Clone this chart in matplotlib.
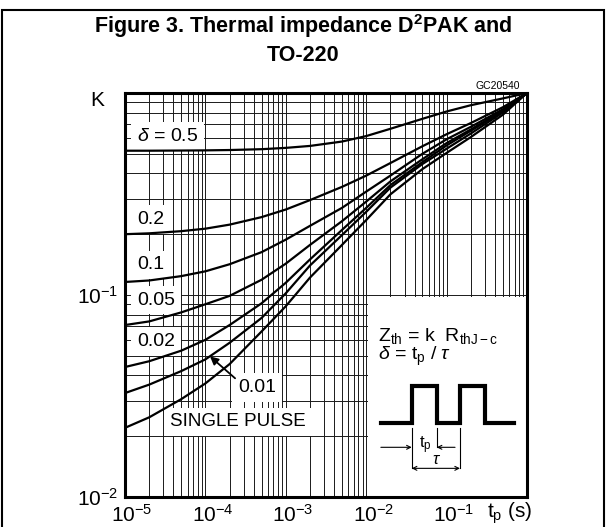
import matplotlib.pyplot as plt
from matplotlib.patches import Rectangle
from matplotlib.ticker import LogLocator, NullFormatter
from matplotlib.transforms import ScaledTranslation

plt.rcParams['font.family'] = ['Liberation Sans', 'DejaVu Sans']
plt.rcParams['mathtext.fontset'] = 'custom'
plt.rcParams['mathtext.rm'] = 'Liberation Sans'
plt.rcParams['mathtext.it'] = 'Liberation Sans:italic'
plt.rcParams['mathtext.bf'] = 'Liberation Sans:bold'

# pulse duration (s)
t_p = [1e-5, 2e-5, 5e-5, 1e-4, 2e-4, 5e-4, 1e-3, 2e-3, 5e-3,
       1e-2, 2e-2, 5e-2, 1e-1, 2e-1, 5e-1, 1.0]

# K, one list per duty cycle
k_d050 = [0.518, 0.518, 0.519, 0.520, 0.522, 0.527, 0.535, 0.547, 0.575,
          0.612, 0.665, 0.745, 0.81, 0.87, 0.94, 1.0]
k_d020 = [0.200, 0.202, 0.207, 0.213, 0.223, 0.243, 0.265, 0.295, 0.343,
          0.39, 0.45, 0.545, 0.625, 0.71, 0.85, 1.0]
k_d010 = [0.116, 0.118, 0.124, 0.131, 0.142, 0.163, 0.188, 0.220, 0.270,
          0.325, 0.39, 0.50, 0.59, 0.68, 0.83, 1.0]
k_d005 = [0.071, 0.074, 0.082, 0.090, 0.099, 0.119, 0.143, 0.177, 0.232,
          0.29, 0.365, 0.47, 0.565, 0.66, 0.82, 1.0]
k_d002 = [0.044, 0.047, 0.053, 0.060, 0.071, 0.091, 0.115, 0.150, 0.210,
          0.27, 0.35, 0.455, 0.55, 0.65, 0.81, 1.0]
k_d001 = [0.0327, 0.036, 0.042, 0.048, 0.058, 0.077, 0.102, 0.140, 0.198,
          0.258, 0.34, 0.445, 0.53, 0.63, 0.80, 1.0]
k_single = [0.022, 0.0248, 0.0305, 0.0365, 0.0455, 0.066, 0.088, 0.122, 0.177,
            0.235, 0.315, 0.42, 0.505, 0.605, 0.78, 1.0]

curves = [k_d050, k_d020, k_d010, k_d005, k_d002, k_d001, k_single]

x_ticks = [1e-5, 1e-4, 1e-3, 1e-2, 1e-1]
x_ticklabels = ['$10^{-5}$', '$10^{-4}$', '$10^{-3}$', '$10^{-2}$', '$10^{-1}$']
y_ticks = [1e-2, 1e-1]
y_ticklabels = ['$10^{-2}$', '$10^{-1}$']

# curve labels: text, t, K
labels = [(r'$\delta$ = 0.5', 1.41e-5, 0.612),
          ('0.2', 1.41e-5, 0.237),
          ('0.1', 1.41e-5, 0.141),
          ('0.05', 1.41e-5, 0.0944),
          ('0.02', 1.41e-5, 0.0589),
          ('0.01', 2.54e-4, 0.0349),
          ('SINGLE PULSE', 3.6e-5, 0.0236)]

# pulse sketch in the inset box (inset units 0..1)
pulse_x = [0.082, 0.276, 0.276, 0.433, 0.433, 0.579, 0.579, 0.736, 0.736, 0.918]
pulse_y = [0.368, 0.368, 0.554, 0.554, 0.368, 0.368, 0.554, 0.554, 0.368, 0.368]

fig = plt.figure(figsize=(6.07, 5.27), dpi=100)
ax = fig.add_axes([125 / 607, 30 / 527, 402 / 607, 404 / 527])
ax.set_xscale('log')
ax.set_yscale('log')
ax.set_xlim(1e-5, 1)
ax.set_ylim(1e-2, 1)

for k in curves:
    ax.plot(t_p, k, color='black', lw=1.6, zorder=4)

ax.xaxis.set_minor_locator(LogLocator(base=10, subs=range(2, 10), numticks=100))
ax.yaxis.set_minor_locator(LogLocator(base=10, subs=range(2, 10), numticks=100))
ax.xaxis.set_minor_formatter(NullFormatter())
ax.yaxis.set_minor_formatter(NullFormatter())
ax.set_xticks(x_ticks)
ax.set_xticklabels(x_ticklabels)
ax.set_yticks(y_ticks)
ax.set_yticklabels(y_ticklabels)
ax.tick_params(which='both', length=0, labelsize=15, pad=5)
# mantissa sits on the tick, exponent hangs to the right
shift = ScaledTranslation(7 / 100, 0, fig.dpi_scale_trans)
for lab in ax.get_xticklabels():
    lab.set_transform(lab.get_transform() + shift)
ax.set_axisbelow(True)
ax.grid(True, which='both', color='#1a1a1a', lw=0.7)
for s in ax.spines.values():
    s.set_linewidth(2.2)

for txt, x, y in labels:
    ax.text(x, y, txt, fontsize=14 if txt != 'SINGLE PULSE' else 13.5,
            ha='left', va='center', zorder=3,
            bbox=dict(boxstyle='square,pad=0.3', fc='white', ec='none'))

ax.annotate('', xy=(1.14e-4, 0.0497), xytext=(2.34e-4, 0.0387),
            arrowprops=dict(arrowstyle='-|>', color='black', lw=1.3,
                            mutation_scale=12, shrinkA=0, shrinkB=0),
            zorder=5)

ax.text(0.315, -0.052, r't$_{\rm p}$ (s)', transform=ax.get_xaxis_transform(),
        fontsize=15, ha='left', va='baseline')

# inset with formulas and pulse sketch
ins = ax.inset_axes([0.604, 0.0, 0.396, 0.496])
ins.set_zorder(2)
ins.set_facecolor('white')
ins.set_xlim(0, 1)
ins.set_ylim(0, 1)
ins.set_xticks([])
ins.set_yticks([])
for s in ins.spines.values():
    s.set_visible(False)
ins.text(0.065, 0.804, r'Z$_{\rm th}$ = k  R$_{\rm thJ-c}$', fontsize=14,
         ha='left', va='center')
ins.text(0.065, 0.704, r'$\delta$ = t$_{\rm p}$ / $\tau$', fontsize=14,
         ha='left', va='center')
ins.plot(pulse_x, pulse_y, color='black', lw=3, solid_joinstyle='miter')
ins.plot([0.276, 0.276], [0.343, 0.143], color='black', lw=0.8)
ins.plot([0.433, 0.433], [0.343, 0.248], color='black', lw=0.8)
ins.plot([0.579, 0.579], [0.343, 0.143], color='black', lw=0.8)
arr = dict(arrowstyle='->', color='black', lw=0.8, shrinkA=0, shrinkB=0,
           mutation_scale=7)
ins.annotate('', xy=(0.276, 0.248), xytext=(0.082, 0.248), arrowprops=arr)
ins.annotate('', xy=(0.433, 0.248), xytext=(0.548, 0.248), arrowprops=arr)
ins.annotate('', xy=(0.579, 0.143), xytext=(0.276, 0.143),
             arrowprops=dict(arr, arrowstyle='<->'))
ins.text(0.36, 0.26, r't$_{\rm p}$', fontsize=12, ha='center', va='center')
ins.text(0.429, 0.185, r'$\tau$', fontsize=12, ha='center', va='center')

fig.text(97 / 607, 1 - 101 / 527, 'K', fontsize=15, ha='center', va='center')
fig.text(520 / 607, 1 - 86 / 527, 'GC20540', fontsize=7.5, ha='right', va='center')
fig.text(0.5, 1 - 12 / 527,
         'Figure 3. Thermal impedance D$^\\mathbf{2}$PAK and\nTO-220',
         fontsize=15.5, fontweight='bold', ha='center', va='top', linespacing=1.3)

fig.add_artist(Rectangle((2 / 607, -0.05), 602 / 607, 1 - 10 / 527 + 0.05,
                         transform=fig.transFigure, fill=False, lw=1.5,
                         ec='black', clip_on=False))

fig.savefig('out.png', dpi=100)
